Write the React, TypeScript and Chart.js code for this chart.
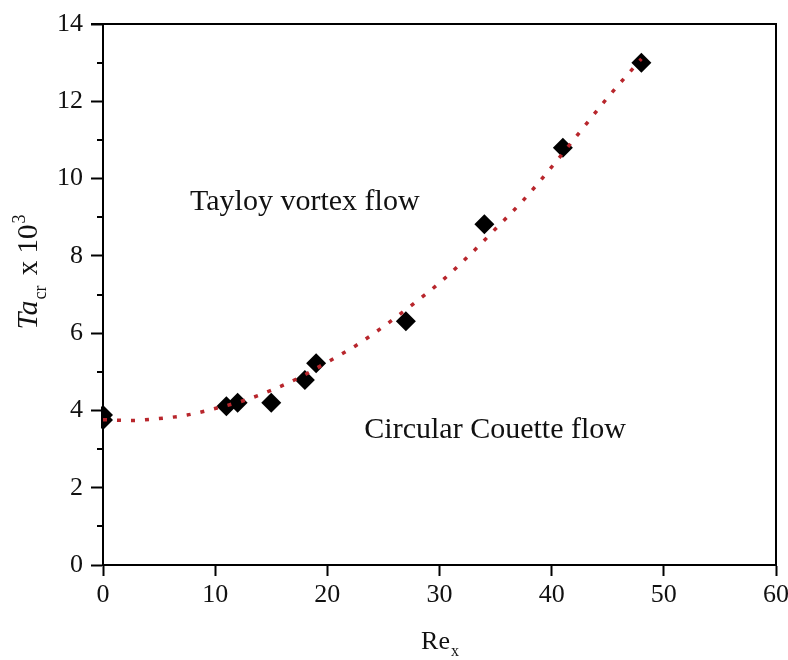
import React, { useEffect, useRef } from 'react';
import { Chart, registerables } from 'chart.js';

Chart.register(...registerables);

// Measured critical Taylor numbers (x 10^3) against axial Reynolds number
const reX = [0, 0, 11, 12, 15, 18, 19, 27, 34, 41, 48];
const taCr = [3.88, 3.75, 4.11, 4.2, 4.2, 4.79, 5.22, 6.31, 8.82, 10.8, 13.0];

// Fitted trend curve through the measurements
const fitRe = [0, 2.5, 5, 7.5, 10, 12.5, 15, 17.5, 20, 22.5, 25, 27.5, 30, 32.5, 35, 37.5, 40, 42.5, 45, 48];
const fitTa = [3.76, 3.74, 3.79, 3.88, 4.05, 4.25, 4.52, 4.85, 5.25, 5.67, 6.17, 6.72, 7.3, 7.97, 8.7, 9.45, 10.3, 11.2, 12.1, 13.1];

// Axis ticks
const xTicks = [0, 10, 20, 30, 40, 50, 60];
const yTicks = [0, 2, 4, 6, 8, 10, 12, 14];
const yMinorTicks = [1, 3, 5, 7, 9, 11, 13];

// Region labels
const regionNames = ['Tayloy vortex flow', 'Circular Couette flow'];
const regionRe = [7.76, 23.3];
const regionTa = [9.19, 3.29];

const SERIF = '"Liberation Serif", "Times New Roman", serif';

const decorPlugin = {
  id: 'decor',
  afterDraw(chart: any) {
    const { ctx, chartArea: a, scales } = chart;
    const xs = scales.x;
    const ys = scales.y;
    ctx.save();

    // closing frame on top and right
    ctx.strokeStyle = '#000';
    ctx.lineWidth = 2;
    ctx.beginPath();
    ctx.moveTo(a.left - 12, a.top);
    ctx.lineTo(a.right, a.top);
    ctx.lineTo(a.right, a.bottom);
    ctx.stroke();

    // minor y ticks
    ctx.beginPath();
    for (const v of yMinorTicks) {
      const py = Math.round(ys.getPixelForValue(v));
      ctx.moveTo(a.left - 6, py);
      ctx.lineTo(a.left, py);
    }
    ctx.stroke();

    // region labels
    ctx.fillStyle = '#111';
    ctx.font = `30px ${SERIF}`;
    ctx.textAlign = 'left';
    ctx.textBaseline = 'alphabetic';
    regionNames.forEach((name, i) => {
      ctx.fillText(name, xs.getPixelForValue(regionRe[i]), ys.getPixelForValue(regionTa[i]));
    });

    // x-axis title: Re_x
    const main = `26px ${SERIF}`;
    const small = `16px ${SERIF}`;
    ctx.font = main;
    const wRe = ctx.measureText('Re').width;
    ctx.font = small;
    const wx = ctx.measureText('x').width;
    const cx = (a.left + a.right) / 2;
    let px = cx - (wRe + wx) / 2;
    const base = 649;
    ctx.font = main;
    ctx.fillText('Re', px, base);
    px += wRe;
    ctx.font = small;
    ctx.fillText('x', px + 1, base + 7);

    // y-axis title: Ta_cr x 10^3
    const parts = [
      { t: 'Ta', f: `italic 30px ${SERIF}`, dy: 0, gap: 1 },
      { t: 'cr', f: `18px ${SERIF}`, dy: 9, gap: 3 },
      { t: ' x 10', f: `29px ${SERIF}`, dy: 0, gap: 1 },
      { t: '3', f: `18px ${SERIF}`, dy: -12, gap: 0 },
    ];
    let total = 0;
    const widths = parts.map((p) => {
      ctx.font = p.f;
      const w = ctx.measureText(p.t).width + p.gap;
      total += w;
      return w;
    });
    ctx.translate(37, 272);
    ctx.rotate(-Math.PI / 2);
    let ox = -total / 2;
    parts.forEach((p, i) => {
      ctx.font = p.f;
      ctx.fillText(p.t, ox, p.dy);
      ox += widths[i];
    });

    ctx.restore();
  },
};

export default function App() {
  const ref = useRef<HTMLCanvasElement | null>(null);

  useEffect(() => {
    if (!ref.current) return;
    const chart = new Chart(ref.current, {
      type: 'scatter',
      data: {
        datasets: [
          {
            label: 'fit',
            data: fitRe.map((x, i) => ({ x, y: fitTa[i] })),
            showLine: true,
            borderColor: '#b8262c',
            borderWidth: 3.5,
            borderDash: [4, 10],
            borderCapStyle: 'butt',
            cubicInterpolationMode: 'monotone',
            pointRadius: 0,
            fill: false,
            order: 0,
          },
          {
            label: 'Ta_cr',
            data: reX.map((x, i) => ({ x, y: taCr[i] })),
            showLine: false,
            pointStyle: 'rectRot',
            pointRadius: 10,
            backgroundColor: '#000',
            borderColor: '#000',
            borderWidth: 0,
            clip: { left: 2, top: 12, right: 12, bottom: 12 },
            order: 1,
          },
        ],
      },
      options: {
        responsive: false,
        animation: false,
        devicePixelRatio: 1,
        layout: { padding: { top: 24, right: 12, left: 0, bottom: 0 } },
        plugins: {
          legend: { display: false },
          tooltip: { enabled: false },
        },
        scales: {
          x: {
            type: 'linear',
            min: 0,
            max: 60,
            afterBuildTicks: (s: any) => {
              s.ticks = xTicks.map((v) => ({ value: v }));
            },
            afterFit: (s: any) => {
              s.height = 95;
              s.paddingLeft = 0;
              s.paddingRight = 0;
            },
            ticks: {
              color: '#111',
              font: { family: SERIF, size: 26 },
              padding: 4,
              maxRotation: 0,
            },
            grid: {
              drawOnChartArea: false,
              drawTicks: true,
              tickLength: 11,
              tickWidth: 2,
              tickColor: '#000',
            },
            border: { display: true, color: '#000', width: 2 },
          },
          y: {
            type: 'linear',
            min: 0,
            max: 14,
            afterBuildTicks: (s: any) => {
              s.ticks = yTicks.map((v) => ({ value: v }));
            },
            afterFit: (s: any) => {
              s.width = 103;
              s.paddingTop = 0;
              s.paddingBottom = 0;
            },
            ticks: {
              color: '#111',
              font: { family: SERIF, size: 26 },
              padding: 8,
            },
            grid: {
              drawOnChartArea: false,
              drawTicks: true,
              tickLength: 12,
              tickWidth: 2,
              tickColor: '#000',
            },
            border: { display: true, color: '#000', width: 2 },
          },
        },
      },
      plugins: [decorPlugin],
    });
    return () => chart.destroy();
  }, []);

  return (
    <div style={{ position: 'absolute', left: 0, top: 0, width: 788, height: 660, background: '#fff' }}>
      <canvas ref={ref} width={788} height={660} style={{ display: 'block' }} />
    </div>
  );
}
